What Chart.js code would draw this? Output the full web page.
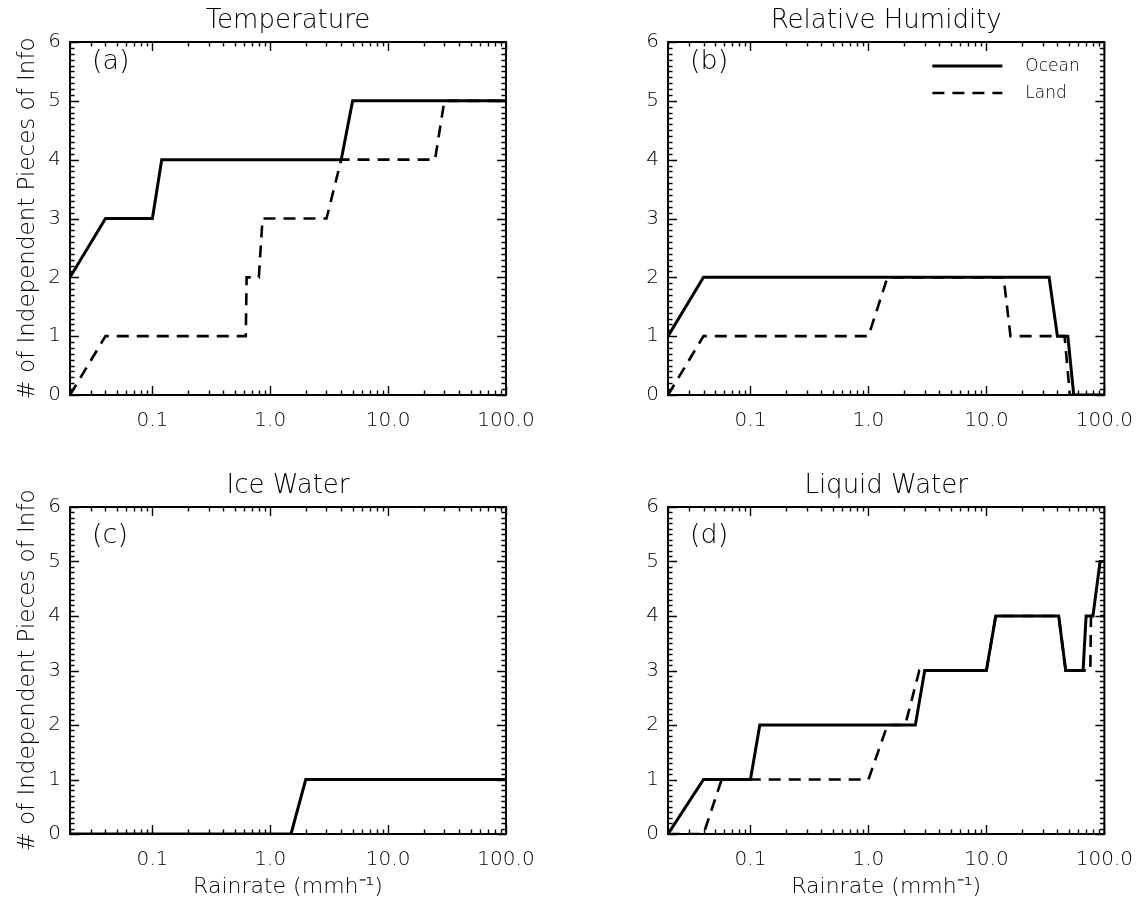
<!DOCTYPE html>
<html>
<head>
<meta charset="utf-8">
<script src="https://cdn.jsdelivr.net/npm/chart.js@4.4.1/dist/chart.umd.min.js"></script>
<style>
  html, body { margin: 0; padding: 0; background: #fff; }
  #wrap { position: relative; width: 1147px; height: 904px; overflow: hidden; }
  #wrap canvas { position: absolute; }
</style>
</head>
<body>
<div id="wrap">
  <canvas id="pa"></canvas>
  <canvas id="pb"></canvas>
  <canvas id="pc"></canvas>
  <canvas id="pd"></canvas>
</div>
<script>
// Number of independent pieces of information versus rain rate (mm/h)
const panelTitles = ['Temperature', 'Relative Humidity', 'Ice Water', 'Liquid Water'];
const panelTags = ['(a)', '(b)', '(c)', '(d)'];
const seriesNames = ['Ocean', 'Land'];
const yAxisTitle = '# of Independent Pieces of Info';
const xAxisTitle = 'Rainrate (mmh\u207B\u00B9)';

// (a) Temperature
const tempOceanX = [0.02, 0.04, 0.10, 0.12, 4.0, 5.0, 100];
const tempOceanY = [2, 3, 3, 4, 4, 5, 5];
const tempLandX  = [0.02, 0.04, 0.62, 0.63, 0.80, 0.86, 3.0, 4.0, 25, 30, 100];
const tempLandY  = [0, 1, 1, 2, 2, 3, 3, 4, 4, 5, 5];

// (b) Relative humidity
const rhOceanX = [0.02, 0.04, 34, 40, 49, 55, 100];
const rhOceanY = [1, 2, 2, 1, 1, 0, 0];
const rhLandX  = [0.02, 0.04, 1.0, 1.45, 14, 16, 46, 51, 100];
const rhLandY  = [0, 1, 1, 2, 2, 1, 1, 0, 0];

// (c) Ice water
const iceOceanX = [0.02, 1.5, 2.0, 100];
const iceOceanY = [0, 0, 1, 1];

// (d) Liquid water
const liqOceanX = [0.02, 0.04, 0.10, 0.12, 2.5, 3.0, 10, 12, 41, 47, 66, 70, 80, 92, 100];
const liqOceanY = [0, 1, 1, 2, 2, 3, 3, 4, 4, 3, 3, 4, 4, 5, 5];
const liqLandX  = [0.02, 0.04, 0.057, 1.0, 1.45, 2.05, 2.7, 10, 12, 41, 47, 76, 77, 100];
const liqLandY  = [0, 0, 1, 1, 2, 2, 3, 3, 4, 4, 3, 3, 4, 4];

// Axis ticks
const xRange = [0.02, 100];
const yRange = [0, 6];
const xTickValues = [0.1, 1, 10, 100];
const xTickLabels = ['0.1', '1.0', '10.0', '100.0'];
const yTickValues = [0, 1, 2, 3, 4, 5, 6];
const yTickLabels = ['0', '1', '2', '3', '4', '5', '6'];

const panelSeries = [
  [[tempOceanX, tempOceanY], [tempLandX, tempLandY]],
  [[rhOceanX, rhOceanY], [rhLandX, rhLandY]],
  [[iceOceanX, iceOceanY]],
  [[liqOceanX, liqOceanY], [liqLandX, liqLandY]]
];

// Layout of the four panels (canvas placement and plot box inside each canvas)
const FONT = "'DejaVu Sans', 'Liberation Sans', sans-serif";
const WEIGHT = '200';
const layout = [
  { id: 'pa', x: 0,   y: 0,   w: 573, h: 452, box: { l: 70, t: 42, r: 506, b: 395 }, yTitle: true,  xTitle: false, titleY: 28, tagDy: 20, legend: false },
  { id: 'pb', x: 573, y: 0,   w: 574, h: 452, box: { l: 95, t: 42, r: 533, b: 395 }, yTitle: false, xTitle: false, titleY: 28, tagDy: 20, legend: true },
  { id: 'pc', x: 0,   y: 452, w: 573, h: 452, box: { l: 70, t: 55, r: 506, b: 382 }, yTitle: true,  xTitle: true,  titleY: 41, tagDy: 29, legend: false },
  { id: 'pd', x: 573, y: 452, w: 574, h: 452, box: { l: 95, t: 55, r: 533, b: 382 }, yTitle: false, xTitle: true,  titleY: 41, tagDy: 29, legend: false }
];

const MAJOR = 9, MINOR = 4.5;

// Frame, inward ticks, panel title, panel tag and in-plot legend
const framePlugin = {
  id: 'frame',
  afterDatasetsDraw(chart, args, opts) {
    const { ctx, chartArea: a } = chart;
    const xs = chart.scales.x, ys = chart.scales.y;
    ctx.save();
    ctx.strokeStyle = '#000';
    ctx.fillStyle = '#000';
    ctx.lineWidth = 2;
    ctx.setLineDash([]);
    ctx.strokeRect(a.left, a.top, a.right - a.left, a.bottom - a.top);

    ctx.lineWidth = 1.4;
    ctx.beginPath();
    for (let e = -2; e <= 2; e++) {
      for (let m = 1; m <= 9; m++) {
        const v = m * Math.pow(10, e);
        if (v < xs.min * 0.999 || v > xs.max * 1.001) continue;
        const px = Math.round(xs.getPixelForValue(v)) + 0.5;
        const len = m === 1 ? MAJOR : MINOR;
        ctx.moveTo(px, a.bottom); ctx.lineTo(px, a.bottom - len);
        ctx.moveTo(px, a.top);    ctx.lineTo(px, a.top + len);
      }
    }
    for (let i = 0; i <= 60; i++) {
      const py = Math.round(ys.getPixelForValue(i / 10)) + 0.5;
      const len = i % 10 === 0 ? MAJOR : MINOR;
      ctx.moveTo(a.left, py);  ctx.lineTo(a.left + len, py);
      ctx.moveTo(a.right, py); ctx.lineTo(a.right - len, py);
    }
    ctx.stroke();

    // panel title
    ctx.font = WEIGHT + ' 26px ' + FONT;
    ctx.textAlign = 'center';
    ctx.textBaseline = 'alphabetic';
    ctx.fillText(opts.title, (a.left + a.right) / 2, opts.titleY);

    // panel tag
    ctx.font = WEIGHT + ' 27px ' + FONT;
    ctx.textAlign = 'left';
    ctx.textBaseline = 'middle';
    ctx.fillText(opts.tag, a.left + 22, a.top + opts.tagDy);

    // legend
    if (opts.legend) {
      chart.data.datasets.forEach((ds, i) => {
        const ly = a.top + 24 + i * 27;
        ctx.lineWidth = ds.borderWidth;
        ctx.setLineDash(ds.borderDash || []);
        ctx.beginPath();
        ctx.moveTo(a.right - 172, ly);
        ctx.lineTo(a.right - 102, ly);
        ctx.stroke();
        ctx.setLineDash([]);
        ctx.font = WEIGHT + ' 17px ' + FONT;
        ctx.textAlign = 'left';
        ctx.fillText(ds.label, a.right - 79, ly + 1);
      });
    }
    ctx.restore();
  }
};

layout.forEach((p, k) => {
  const cv = document.getElementById(p.id);
  cv.width = p.w; cv.height = p.h;
  cv.style.left = p.x + 'px'; cv.style.top = p.y + 'px';
  cv.style.width = p.w + 'px'; cv.style.height = p.h + 'px';

  const yW = p.yTitle ? p.box.l : 40;
  const xH = p.h - p.box.b;

  const datasets = panelSeries[k].map((s, i) => ({
    label: seriesNames[i],
    data: s[0].map((xv, j) => ({ x: xv, y: s[1][j] })),
    showLine: true,
    borderColor: '#000',
    backgroundColor: '#000',
    borderWidth: i === 0 ? 3 : 2.6,
    borderDash: i === 0 ? [] : [12, 8],
    pointRadius: 0,
    tension: 0,
    fill: false
  }));

  new Chart(cv, {
    type: 'scatter',
    data: { datasets },
    plugins: [framePlugin],
    options: {
      responsive: false,
      animation: false,
      devicePixelRatio: 1,
      layout: { padding: { left: p.box.l - yW, top: p.box.t, right: p.w - p.box.r, bottom: 0 } },
      plugins: {
        legend: { display: false },
        title: { display: false },
        tooltip: { enabled: false },
        frame: { title: panelTitles[k], tag: panelTags[k], titleY: p.titleY, tagDy: p.tagDy, legend: p.legend }
      },
      scales: {
        x: {
          type: 'logarithmic',
          position: 'bottom',
          min: xRange[0], max: xRange[1],
          afterBuildTicks: s => { s.ticks = xTickValues.map(v => ({ value: v })); },
          afterFit: s => { s.height = xH; },
          grid: { display: false, drawTicks: false },
          border: { display: false },
          ticks: {
            autoSkip: false, maxRotation: 0, minRotation: 0, padding: 14,
            color: '#000', font: { family: FONT, size: 20, weight: WEIGHT },
            callback: (v, i) => xTickLabels[i]
          },
          title: {
            display: p.xTitle, text: xAxisTitle, color: '#000',
            font: { family: FONT, size: 22, weight: WEIGHT }, padding: { top: 0, bottom: 4 }
          }
        },
        y: {
          type: 'linear',
          min: yRange[0], max: yRange[1],
          afterBuildTicks: s => { s.ticks = yTickValues.map(v => ({ value: v })); },
          afterFit: s => { s.width = yW; },
          grid: { display: false, drawTicks: false },
          border: { display: false },
          ticks: {
            padding: 9, color: '#000', font: { family: FONT, size: 20, weight: WEIGHT },
            callback: (v, i) => yTickLabels[i]
          },
          title: {
            display: p.yTitle, text: yAxisTitle, color: '#000',
            font: { family: FONT, size: 23, weight: WEIGHT }, padding: { top: 14, bottom: 0 }
          }
        }
      }
    }
  });
});
</script>
</body>
</html>
